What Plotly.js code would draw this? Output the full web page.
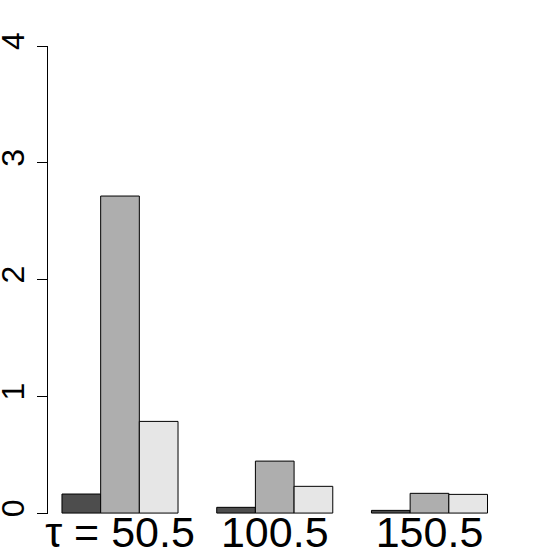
<!DOCTYPE html>
<html>
<head>
<meta charset="utf-8">
<script src="https://cdn.plot.ly/plotly-3.0.1.min.js"></script>
<style>html,body{margin:0;padding:0;background:#fff;}#chart{width:553px;height:552px;}</style>
</head>
<body>
<div id="chart"></div>
<script>
const categories = ["τ = 50.5", "100.5", "150.5"];
const series1 = [0.163, 0.049, 0.023];
const series2 = [2.715, 0.445, 0.169];
const series3 = [0.785, 0.229, 0.160];
const colors = ["#4D4D4D", "#AEAEAE", "#E6E6E6"];
const yTicks = [0, 1, 2, 3, 4];

const traces = [series1, series2, series3].map((vals, i) => ({
  type: "bar",
  x: categories,
  y: vals,
  marker: {color: colors[i], line: {color: "#000000", width: 1}},
  showlegend: false,
  hoverinfo: "none"
}));

const layout = {
  width: 553,
  height: 552,
  margin: {l: 48, r: 48, t: 46, b: 38, pad: 0},
  paper_bgcolor: "#ffffff",
  plot_bgcolor: "#ffffff",
  barmode: "group",
  bargap: 0.25,
  bargroupgap: 0,
  font: {family: "Liberation Sans, Arial, sans-serif", color: "#000000"},
  xaxis: {
    type: "category",
    range: [-0.4653, 2.488],
    anchor: "free",
    position: 0.0235,
    showline: false,
    showgrid: false,
    zeroline: false,
    ticks: "",
    tickfont: {size: 43, color: "#000000"},
    automargin: false,
    fixedrange: true
  },
  yaxis: {
    range: [-0.008, 4],
    tickvals: yTicks,
    ticktext: yTicks.map(String),
    showline: true,
    linecolor: "#000000",
    linewidth: 1,
    ticks: "outside",
    ticklen: 10,
    tickwidth: 1,
    tickcolor: "#000000",
    tickangle: -90,
    tickfont: {size: 32, color: "#000000"},
    showgrid: false,
    zeroline: false,
    automargin: false,
    fixedrange: true
  }
};

Plotly.newPlot("chart", traces, layout, {staticPlot: true, displayModeBar: false});
</script>
</body>
</html>
